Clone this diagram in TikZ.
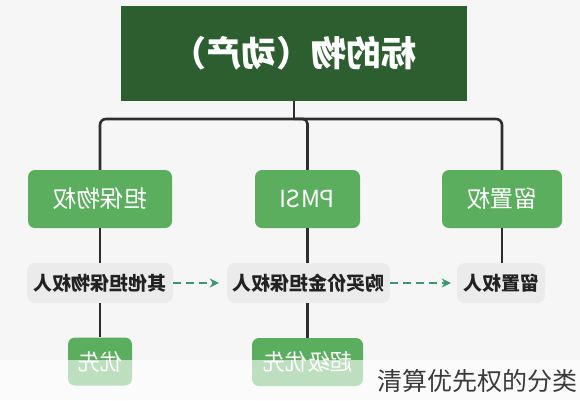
\documentclass[tikz,border=0pt]{standalone}
\usepackage{fontspec}
\usepackage{graphicx}
\setmainfont{Noto Sans CJK SC}
\usetikzlibrary{arrows.meta}
\definecolor{bgc}{HTML}{F6F6F6}
\definecolor{topg}{HTML}{2D5E30}
\definecolor{midg}{HTML}{5CAE5F}
\definecolor{grayb}{HTML}{EBEBEB}
\definecolor{linec}{HTML}{2E2E2E}
\definecolor{arrc}{HTML}{3D9672}
\definecolor{txtc}{HTML}{222222}
\definecolor{capc}{HTML}{3A3A3A}
\newcommand{\mirr}[1]{\reflectbox{#1}}
\begin{document}
\begin{tikzpicture}[x=1pt,y=-1pt,
  topbox/.style={fill=topg,text=white,minimum width=346pt,minimum height=95pt,inner sep=0pt,font=\fontsize{35}{40}\selectfont\bfseries},
  midbox/.style={fill=midg,text=white,rounded corners=7pt,minimum height=58pt,inner sep=0pt,font=\fontsize{23.5}{27}\selectfont},
  graybox/.style={fill=grayb,text=txtc,rounded corners=8pt,minimum height=40pt,inner sep=0pt,font=\fontsize{19}{22}\selectfont\bfseries},
  lowbox/.style={fill=midg,text=white,rounded corners=7pt,minimum height=48pt,inner sep=0pt,font=\fontsize{22.5}{26}\selectfont},
  conn/.style={draw=linec,line width=2.6pt},
  darr/.style={draw=arrc,line width=2pt,dash pattern=on 8pt off 5pt,-{Stealth[length=9pt,width=9pt]}}
]
\useasboundingbox (0,0) rectangle (580,400);
\fill[bgc] (0,0) rectangle (580,400);
\node[topbox] (top) at (294,53.5) {\mirr{标的物（动产）}};
\node[midbox,minimum width=144pt] (b1) at (100,199) {\mirr{担保物权}};
\node[midbox,minimum width=105pt] (b2) at (307.5,199) {\mirr{PMSI}};
\node[midbox,minimum width=120pt] (b3) at (502,199) {\mirr{留置权}};
\node[graybox,minimum width=146pt] (g1) at (100,283) {\mirr{其他担保物权人}};
\node[graybox,minimum width=163pt] (g2) at (308.5,283) {\mirr{购买价金担保权人}};
\node[graybox,minimum width=88pt] (g3) at (501,283) {\mirr{留置权人}};
\node[lowbox,minimum width=64pt] (c1) at (100,361.5) {\mirr{优先}};
\node[lowbox,minimum width=111pt] (c2) at (307.5,362) {\mirr{超级优先}};
\coordinate (hl) at (0,119);
\draw[conn] (top.south) -- (top.south |- hl);
\draw[conn,rounded corners=6pt] (b1.north) -- (b1.north |- hl) -- (b3.north |- hl) -- (b3.north);
\draw[conn,rounded corners=5pt] (b2.north -| top.south) ++(0,-51) -- ++(13.5,0) -- (b2.north);
\draw[conn] (b1.south) -- (g1.north);
\draw[conn] (b2.south) -- (b2.south |- g2.north);
\draw[conn] (b3.south) -- (b3.south |- g3.north);
\draw[conn] (g1.south) -- (c1.north);
\draw[conn] (g2.south -| c2.north) -- (c2.north);
\draw[darr] (g1.east) -- ([xshift=-8pt]g2.west);
\draw[darr] (g2.east) -- ([xshift=-6pt]g3.west);
\fill[white,opacity=0.6] (0,360) rectangle (580,400);
\node[anchor=east,text=capc,inner sep=0pt,font=\fontsize{25}{28}\selectfont] (cap) at (578,381) {清算优先权的分类};
\end{tikzpicture}
\end{document}
